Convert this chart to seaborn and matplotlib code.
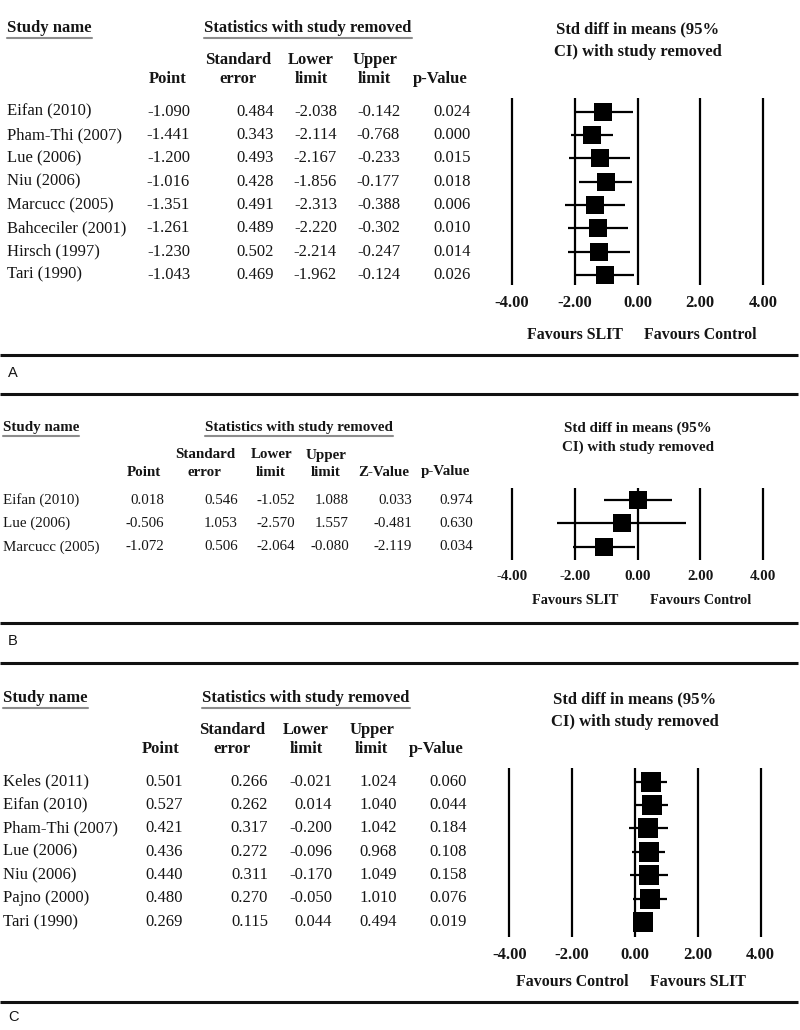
import matplotlib
matplotlib.use("Agg")
import matplotlib.pyplot as plt
import matplotlib.transforms as mtransforms
import pandas as pd
import seaborn as sns

# ---- data: panel A ----
studies_a = ["Eifan (2010)", "Pham-Thi (2007)", "Lue (2006)", "Niu (2006)",
             "Marcucc (2005)", "Bahceciler (2001)", "Hirsch (1997)", "Tari (1990)"]
point_a = [-1.090, -1.441, -1.200, -1.016, -1.351, -1.261, -1.230, -1.043]
se_a = [0.484, 0.343, 0.493, 0.428, 0.491, 0.489, 0.502, 0.469]
lower_a = [-2.038, -2.114, -2.167, -1.856, -2.313, -2.220, -2.214, -1.962]
upper_a = [-0.142, -0.768, -0.233, -0.177, -0.388, -0.302, -0.247, -0.124]
p_a = [0.024, 0.000, 0.015, 0.018, 0.006, 0.010, 0.014, 0.026]

# ---- data: panel B ----
studies_b = ["Eifan (2010)", "Lue (2006)", "Marcucc (2005)"]
point_b = [0.018, -0.506, -1.072]
se_b = [0.546, 1.053, 0.506]
lower_b = [-1.052, -2.570, -2.064]
upper_b = [1.088, 1.557, -0.080]
z_b = [0.033, -0.481, -2.119]
p_b = [0.974, 0.630, 0.034]

# ---- data: panel C ----
studies_c = ["Keles (2011)", "Eifan (2010)", "Pham-Thi (2007)", "Lue (2006)",
             "Niu (2006)", "Pajno (2000)", "Tari (1990)"]
point_c = [0.501, 0.527, 0.421, 0.436, 0.440, 0.480, 0.269]
se_c = [0.266, 0.262, 0.317, 0.272, 0.311, 0.270, 0.115]
lower_c = [-0.021, 0.014, -0.200, -0.096, -0.170, -0.050, 0.044]
upper_c = [1.024, 1.040, 1.042, 0.968, 1.049, 1.010, 0.494]
p_c = [0.060, 0.044, 0.184, 0.108, 0.158, 0.076, 0.019]

heads5 = [("", "Point"), ("Standard", "error"), ("Lower", "limit"),
          ("Upper", "limit"), ("", "p-Value")]
heads6 = [("", "Point"), ("Standard", "error"), ("Lower", "limit"),
          ("Upper", "limit"), ("", "Z-Value"), ("", "p-Value")]
ticks = [-4, -2, 0, 2, 4]
tick_labels = ["-4.00", "-2.00", "0.00", "2.00", "4.00"]
favours_a = ("Favours SLIT", "Favours Control")
favours_c = ("Favours Control", "Favours SLIT")

panels = [
    dict(tag="A", studies=studies_a, cols=[point_a, se_a, lower_a, upper_a, p_a],
         heads=heads5, point=point_a, lo=lower_a, hi=upper_a, fav=favours_a,
         fs=12, x0=7, col_right=[190, 274, 337, 400, 471], stat_cx=308,
         y_head=28, y_h1=60, y_h2=79, row0=111.7, dy=23.3,
         f_top=98, f_bot=285, zero=637.5, y_t1=29, y_t2=52, y_tick=303,
         y_fav=335, sq=187, rule_top=None, rule_bot=355, y_tag=373),
    dict(tag="B", studies=studies_b, cols=[point_b, se_b, lower_b, upper_b, z_b, p_b],
         heads=heads6, point=point_b, lo=lower_b, hi=upper_b, fav=favours_a,
         fs=10.8, x0=3, col_right=[164, 238, 295, 349, 412, 473], stat_cx=299,
         y_head=427, y_h1=455, y_h2=472, row0=500, dy=23.5,
         f_top=488, f_bot=560, zero=637.5, y_t1=428, y_t2=447, y_tick=577,
         y_fav=601, sq=168, rule_top=394, rule_bot=623, y_tag=641),
    dict(tag="C", studies=studies_c, cols=[point_c, se_c, lower_c, upper_c, p_c],
         heads=heads5, point=point_c, lo=lower_c, hi=upper_c, fav=favours_c,
         fs=12, x0=3, col_right=[183, 268, 332, 397, 467], stat_cx=306,
         y_head=698, y_h1=730, y_h2=749, row0=781.5, dy=23.4,
         f_top=768, f_bot=937, zero=635, y_t1=699, y_t2=722, y_tick=955,
         y_fav=982, sq=197, rule_top=663, rule_bot=1002, y_tag=1017),
]

sns.set_theme(style="white")
plt.rcParams["font.family"] = ["Liberation Serif", "DejaVu Serif"]

W, H = 800, 1030
fig = plt.figure(figsize=(8, 10.3), dpi=100)
fig.patch.set_facecolor("white")
bg = fig.add_axes([0, 0, 1, 1])
bg.set_xlim(0, W)
bg.set_ylim(H, 0)
bg.axis("off")

txt = "#151515"
unit = 31.4
underlined = []
head_pairs = []

for pn in panels:
    fs = pn["fs"]
    # horizontal rules
    for ry in (pn["rule_top"], pn["rule_bot"]):
        if ry is not None:
            bg.plot([0, 798], [ry, ry], color="#111111", lw=2.2, solid_capstyle="butt")
    bg.text(8, pn["y_tag"], pn["tag"], family="Liberation Sans", fontsize=10.5,
            color=txt, va="center", ha="left")

    # table headers
    t1 = bg.text(pn["x0"], pn["y_head"], "Study name", fontsize=fs, weight="bold",
                 color=txt, va="center", ha="left")
    t2 = bg.text(pn["stat_cx"], pn["y_head"], "Statistics with study removed",
                 fontsize=fs, weight="bold", color=txt, va="center", ha="center")
    underlined += [t1, t2]
    for (h1, h2), xr in zip(pn["heads"], pn["col_right"]):
        pair = []
        for h, yy in ((h1, pn["y_h1"]), (h2, pn["y_h2"])):
            if h:
                pair.append(bg.text(xr - 3, yy, h, fontsize=fs, weight="bold",
                                    color=txt, va="center", ha="right"))
        head_pairs.append((xr - 3, pair))

    # table rows
    for i, name in enumerate(pn["studies"]):
        y = pn["row0"] + i * pn["dy"]
        bg.text(pn["x0"], y, name, fontsize=fs, color=txt, va="center", ha="left")
        for col, xr in zip(pn["cols"], pn["col_right"]):
            bg.text(xr, y, f"{col[i]:.3f}", fontsize=fs, color=txt,
                    va="center", ha="right")

    # forest plot axes
    left = pn["zero"] - 5 * unit
    ax = fig.add_axes([left / W, 1 - pn["f_bot"] / H, 10 * unit / W,
                       (pn["f_bot"] - pn["f_top"]) / H])
    ax.set_facecolor("none")
    rows = list(range(len(pn["studies"])))
    df = pd.DataFrame({"point": pn["point"], "lo": pn["lo"], "hi": pn["hi"], "row": rows})
    for t in ticks:
        ax.axvline(t, color="black", lw=1.6, zorder=1)
    ax.hlines(df["row"], df["lo"], df["hi"], color="black", lw=1.6, zorder=2)
    sns.scatterplot(data=df, x="point", y="row", marker="s", s=pn["sq"],
                    color="black", linewidth=0, zorder=3, legend=False, ax=ax)
    ax.set_xlim(-5, 5)
    ax.set_ylim((pn["f_bot"] - pn["row0"]) / pn["dy"], (pn["f_top"] - pn["row0"]) / pn["dy"])
    ax.set_xticks([])
    ax.set_yticks([])
    ax.set_xlabel("")
    ax.set_ylabel("")
    for s in ax.spines.values():
        s.set_visible(False)

    tr = mtransforms.blended_transform_factory(ax.transData, bg.transData)
    for t, lab in zip(ticks, tick_labels):
        bg.text(t, pn["y_tick"], lab, transform=tr, fontsize=fs, weight="bold",
                color=txt, ha="center", va="center")
    bg.text(-2, pn["y_fav"], pn["fav"][0], transform=tr, fontsize=fs * 0.95,
            weight="bold", color=txt, ha="center", va="center")
    bg.text(2, pn["y_fav"], pn["fav"][1], transform=tr, fontsize=fs * 0.95,
            weight="bold", color=txt, ha="center", va="center")
    bg.text(0, pn["y_t1"], "Std diff in means (95%", transform=tr, fontsize=fs,
            weight="bold", color=txt, ha="center", va="center")
    bg.text(0, pn["y_t2"], "CI) with study removed", transform=tr, fontsize=fs,
            weight="bold", color=txt, ha="center", va="center")

fig.canvas.draw()
renderer = fig.canvas.get_renderer()
inv = bg.transData.inverted()

# two-line headers: centre the lines on each other, block right-aligned
for xr, pair in head_pairs:
    if len(pair) < 2:
        continue
    widths = [t.get_window_extent(renderer).width for t in pair]
    cx = xr - max(widths) / 2
    for t in pair:
        t.set_x(cx)
        t.set_ha("center")

# underline the group headers
for t in underlined:
    bb = t.get_window_extent(renderer)
    (x0, y0), (x1, y1) = inv.transform([[bb.x0, bb.y0], [bb.x1, bb.y1]])
    bg.plot([x0, x1], [y0 + 2, y0 + 2], color="#8c8c8c", lw=1.5)

fig.savefig("out.png", dpi=100, facecolor="white")
